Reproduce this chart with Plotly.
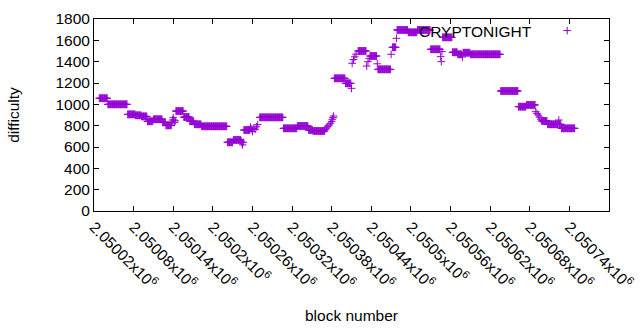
import plotly.graph_objects as go

# Runs of consecutive blocks sharing (approximately) the same difficulty,
# read from the reference picture: first block, last block, difficulty.
run_first = [
    2050028, 2050041, 2050071, 2050083, 2050092, 2050101, 2050110, 2050124, 2050129,
    2050138, 2050139, 2050140, 2050141, 2050142, 2050143,
    2050144, 2050156, 2050165, 2050172, 2050183, 2050222, 2050231,
    2050243, 2050244, 2050245, 2050246,
    2050247,
    2050257, 2050259, 2050260, 2050262, 2050264, 2050266, 2050268,
    2050271, 2050307, 2050328, 2050345, 2050352,
    2050370, 2050372, 2050374, 2050376, 2050378, 2050380, 2050381, 2050382, 2050383,
    2050384, 2050401, 2050410,
    2050411, 2050413, 2050415, 2050417,
    2050420,
    2050433, 2050435, 2050437,
    2050438, 2050449, 2050450,
    2050470, 2050472, 2050478,
    2050479, 2050496, 2050510, 2050530,
    2050545, 2050546, 2050547,
    2050548, 2050563, 2050571, 2050578, 2050579, 2050590,
    2050636, 2050663, 2050675,
    2050689, 2050691, 2050693, 2050695, 2050697,
    2050698, 2050707, 2050724, 2050725, 2050728,
]
run_last = [
    2050040, 2050070, 2050082, 2050091, 2050100, 2050109, 2050123, 2050128, 2050137,
    2050138, 2050139, 2050140, 2050141, 2050142, 2050143,
    2050155, 2050164, 2050171, 2050182, 2050221, 2050230, 2050242,
    2050243, 2050244, 2050245, 2050246,
    2050256,
    2050257, 2050259, 2050260, 2050262, 2050264, 2050266, 2050268,
    2050306, 2050327, 2050344, 2050351, 2050369,
    2050370, 2050372, 2050374, 2050376, 2050378, 2050380, 2050381, 2050382, 2050383,
    2050400, 2050409, 2050410,
    2050411, 2050413, 2050415, 2050417,
    2050432,
    2050433, 2050435, 2050437,
    2050448, 2050449, 2050469,
    2050470, 2050477, 2050478,
    2050495, 2050509, 2050529, 2050544,
    2050545, 2050546, 2050547,
    2050562, 2050570, 2050577, 2050578, 2050589, 2050635,
    2050662, 2050674, 2050688,
    2050689, 2050691, 2050693, 2050695, 2050697,
    2050706, 2050723, 2050724, 2050727, 2050748,
]
run_difficulty = [
    1057, 1000, 906, 897, 887, 841, 860, 831, 803,
    831, 853, 875, 853, 831, 845,
    937, 881, 841, 813, 794, 644, 666,
    655, 640, 620, 644,
    759,
    785, 770, 745, 775, 765, 790, 810,
    878, 775, 797, 759, 750,
    765, 778, 790, 805, 822, 840, 860, 875, 890,
    1244, 1197, 1150,
    1385, 1420, 1445, 1470,
    1500,
    1359, 1400, 1431,
    1453, 1380, 1328,
    1469, 1535, 1619,
    1697, 1675, 1697, 1516,
    1447, 1400, 1494,
    1628, 1488, 1469, 1444, 1484, 1469,
    1125, 978, 994,
    931, 915, 900, 880, 860,
    844, 813, 853, 813, 775,
]

x_tick_values = list(range(2050020, 2050801, 60))
x_tick_labels = [f"{v / 1e6:g}x10<sup>6</sup>" for v in x_tick_values]
y_tick_values = list(range(0, 1801, 200))

series_name = "CRYPTONIGHT"
color = "#9400D3"

blocks, difficulty = [], []
for first, last, d in zip(run_first, run_last, run_difficulty):
    for b in range(first, last + 1):
        blocks.append(b)
        difficulty.append(d)

FONT = "Liberation Sans, Arial, sans-serif"
FS = 15.5

fig = go.Figure()
fig.add_trace(go.Scatter(
    x=blocks, y=difficulty, mode="markers", name="",
    marker=dict(symbol="cross-thin", size=5.5, color=color,
                line=dict(color=color, width=1)),
    showlegend=True,
))

# gnuplot-style key: label text right-justified, sample to its right
fig.add_annotation(
    text=series_name, xref="paper", yref="paper",
    x=0.8545, y=0.9375, xanchor="right", yanchor="middle",
    showarrow=False, font=dict(family=FONT, size=FS, color="black"),
)

fig.update_layout(
    width=640, height=330,
    margin=dict(l=94, r=31, t=19, b=119),
    paper_bgcolor="white", plot_bgcolor="white",
    font=dict(family=FONT, size=FS, color="black"),
    showlegend=True,
    legend=dict(
        x=0.88, xanchor="left", y=0.9375, yanchor="middle",
        bgcolor="rgba(0,0,0,0)", borderwidth=0,
        itemwidth=30, tracegroupgap=0,
    ),
    xaxis=dict(
        range=[2050020, 2050800],
        tickmode="array", tickvals=x_tick_values, ticktext=x_tick_labels,
        tickangle=45, ticks="inside", ticklen=5, tickcolor="black",
        showline=True, linecolor="black", linewidth=1, mirror="ticks",
        showgrid=False, zeroline=False, automargin=False,
        tickfont=dict(size=FS),
        title=dict(text="block number", standoff=19, font=dict(size=FS)),
    ),
    yaxis=dict(
        range=[0, 1800],
        tickmode="array", tickvals=y_tick_values,
        ticks="inside", ticklen=5, tickcolor="black",
        showline=True, linecolor="black", linewidth=1, mirror="ticks",
        showgrid=False, zeroline=False, automargin=False,
        tickfont=dict(size=FS),
        title=dict(text="difficulty", standoff=31, font=dict(size=FS)),
    ),
)

fig.write_html(
    "out.html",
    config={"displayModeBar": False},
    post_script="document.body.style.margin='0';document.body.style.overflow='hidden';",
)
